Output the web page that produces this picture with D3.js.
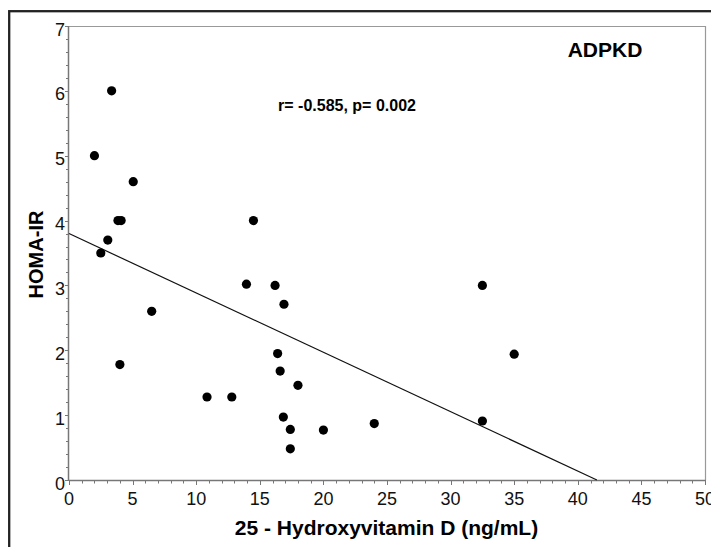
<!DOCTYPE html>
<html>
<head>
<meta charset="utf-8">
<script src="https://cdn.jsdelivr.net/npm/d3@7"></script>
<style>
  body { margin: 0; background: #fff; }
  svg { display: block; font-family: Arial, "Liberation Sans", sans-serif; }
</style>
</head>
<body>
<div id="chart"></div>
<script>
// 25-OH vitamin D (ng/mL) vs HOMA-IR, ADPKD patients
var vitD = [2.0, 3.35, 5.05, 3.85, 4.1, 3.05, 2.5, 6.5, 4.0, 10.85, 12.8, 14.5, 13.95, 16.2,
            16.9, 16.4, 16.6, 18.0, 16.85, 17.4, 17.4, 20.0, 24.0, 32.5, 35.0, 32.5];
var homa = [5.0, 6.0, 4.6, 4.0, 4.0, 3.7, 3.5, 2.6, 1.78, 1.28, 1.28, 4.0, 3.02, 3.0,
            2.71, 1.95, 1.68, 1.46, 0.97, 0.78, 0.48, 0.77, 0.87, 3.0, 1.94, 0.91];

// fitted line as drawn (end points)
var fitX = [0, 41.5];
var fitY = [3.80, 0];

var xTicks = [0, 5, 10, 15, 20, 25, 30, 35, 40, 45, 50];
var yTicks = [0, 1, 2, 3, 4, 5, 6, 7];

var W = 711, H = 547;
var pLeft = 69, pTop = 26, pRight = 705, pBottom = 480;

var svg = d3.select("#chart").append("svg")
			.attr("width", W)
			.attr("height", H);

// outer frame (runs off the right and bottom edge)
svg.append("rect")
	.attr("x", 9.2).attr("y", 11.2)
	.attr("width", W + 20).attr("height", H + 20)
	.attr("fill", "none")
	.attr("stroke", "#222")
	.attr("stroke-width", 2.3);

var x = d3.scaleLinear().domain([0, 50]).range([pLeft, pRight]);
var y = d3.scaleLinear().domain([0, 7]).range([pBottom, pTop]);

// plot box, top and right
svg.append("path")
	.attr("d", "M" + pLeft + "," + (pTop + 0.5) + "H" + (pRight + 0.5) + "V" + pBottom)
	.attr("fill", "none")
	.attr("stroke", "#999")
	.attr("stroke-width", 1.2);

var axisColor = "#777";

// minor ticks
var xMinor = d3.range(0, 51, 1);
var yMinor = d3.range(0, 7.01, 0.2);

var xa = svg.append("g").attr("transform", "translate(0," + pBottom + ")");
xa.selectAll(".xt").data(xMinor).enter().append("line")
	.attr("class", "xt")
	.attr("x1", function(d){ return Math.round(x(d)) + 0.5; })
	.attr("x2", function(d){ return Math.round(x(d)) + 0.5; })
	.attr("y1", 0)
	.attr("y2", function(d){ return d % 5 === 0 ? 5 : 3.5; })
	.attr("stroke", axisColor)
	.attr("stroke-width", 1);
xa.append("line")
	.attr("x1", pLeft).attr("x2", pRight + 0.5)
	.attr("y1", 0.5).attr("y2", 0.5)
	.attr("stroke", axisColor).attr("stroke-width", 1.5);
xa.selectAll(".xl").data(xTicks).enter().append("text")
	.attr("class", "xl")
	.attr("x", function(d){ return x(d); })
	.attr("y", 25)
	.attr("text-anchor", "middle")
	.attr("font-size", 18)
	.attr("fill", "#111")
	.text(function(d){ return d; });

var ya = svg.append("g").attr("transform", "translate(" + pLeft + ",0)");
ya.selectAll(".yt").data(yMinor).enter().append("line")
	.attr("class", "yt")
	.attr("y1", function(d){ return Math.round(y(d)) + 0.5; })
	.attr("y2", function(d){ return Math.round(y(d)) + 0.5; })
	.attr("x1", 0)
	.attr("x2", function(d){ return Math.abs(d - Math.round(d)) < 0.01 ? -4 : -3; })
	.attr("stroke", axisColor)
	.attr("stroke-width", 1);
ya.append("line")
	.attr("x1", -0.5).attr("x2", -0.5)
	.attr("y1", pTop).attr("y2", pBottom + 1)
	.attr("stroke", axisColor).attr("stroke-width", 1.5);
ya.selectAll(".yl").data(yTicks).enter().append("text")
	.attr("class", "yl")
	.attr("x", -4)
	.attr("y", function(d){ return y(d) + 9.5; })
	.attr("text-anchor", "end")
	.attr("font-size", 18)
	.attr("fill", "#111")
	.text(function(d){ return d; });

// fitted line
svg.append("line")
	.attr("x1", x(fitX[0])).attr("y1", y(fitY[0]))
	.attr("x2", x(fitX[1])).attr("y2", y(fitY[1]))
	.attr("stroke", "#111")
	.attr("stroke-width", 1.2);

// points
svg.selectAll(".dot").data(vitD).enter().append("circle")
	.attr("class", "dot")
	.attr("cx", function(d){ return x(d); })
	.attr("cy", function(d, i){ return y(homa[i]); })
	.attr("r", 4.6)
	.attr("fill", "#000");

// labels
svg.append("text")
	.attr("x", 386.5).attr("y", 535)
	.attr("text-anchor", "middle")
	.attr("font-size", 21).attr("font-weight", "bold")
	.text("25 - Hydroxyvitamin D (ng/mL)");

svg.append("text")
	.attr("transform", "translate(43,254.5) rotate(-90)")
	.attr("text-anchor", "middle")
	.attr("font-size", 20).attr("font-weight", "bold")
	.text("HOMA-IR");

svg.append("text")
	.attr("x", 605).attr("y", 57)
	.attr("text-anchor", "middle")
	.attr("font-size", 21).attr("font-weight", "bold")
	.text("ADPKD");

svg.append("text")
	.attr("x", 347).attr("y", 111)
	.attr("text-anchor", "middle")
	.attr("font-size", 16).attr("font-weight", "bold")
	.text("r= -0.585, p= 0.002");
</script>
</body>
</html>
